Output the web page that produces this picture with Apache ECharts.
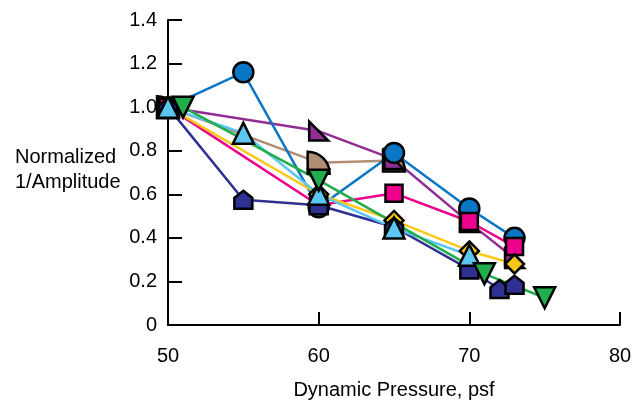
<!DOCTYPE html>
<html>
<head>
<meta charset="utf-8">
<script src="https://cdn.jsdelivr.net/npm/echarts@6/dist/echarts.min.js"></script>
<style>
  html, body { margin: 0; padding: 0; background: #fff; }
  #chart { width: 634px; height: 400px; }
</style>
</head>
<body>
<div id="chart"></div>
<script>
// Axis ranges and tick values
const xTicks = [50, 60, 70, 80];
const yTicks = [0, 0.2, 0.4, 0.6, 0.8, 1.0, 1.2, 1.4];

// Dynamic pressure (psf) and normalized 1/amplitude for each test run
const circleX   = [50, 55, 60, 65, 70, 73];
const circleY   = [1.00, 1.16, 0.54, 0.79, 0.535, 0.40];
const wedgeX    = [50, 60, 65, 70, 73];
const wedgeY    = [1.00, 0.89, 0.76, 0.47, 0.305];
const quarterX  = [50, 60, 65];
const quarterY  = [1.00, 0.745, 0.755];
const squareX   = [50, 60, 65, 70, 73];
const squareY   = [1.00, 0.55, 0.605, 0.475, 0.36];
const diamondX  = [50, 60, 65, 70, 73];
const diamondY  = [1.00, 0.60, 0.48, 0.34, 0.28];
const houseX    = [50, 55, 60, 65, 70, 72, 73];
const houseY    = [1.00, 0.575, 0.55, 0.45, 0.255, 0.165, 0.185];
const triUpX    = [50, 55, 60, 65, 70];
const triUpY    = [1.00, 0.88, 0.60, 0.445, 0.32];
const triDownX  = [51, 60, 71, 75];
const triDownY  = [1.00, 0.665, 0.235, 0.125];

const zip = (xs, ys) => xs.map((x, i) => [x, ys[i]]);

// Drawing order: later entries sit on top
const runs = [
  { xs: quarterX, ys: quarterY, color: '#b08d74', symbol: 'path://M0,10 L0,0 A10,10 0 0 1 10,10 Z', size: 22, rotate: 0 },
  { xs: wedgeX,   ys: wedgeY,   color: '#922e91', symbol: 'path://M0,0 L0,10 L10,10 Z', size: 19, rotate: 0 },
  { xs: circleX,  ys: circleY,  color: '#0a76c6', symbol: 'circle', size: 20, rotate: 0 },
  { xs: squareX,  ys: squareY,  color: '#ec008c', symbol: 'rect', size: 17, rotate: 0 },
  { xs: diamondX, ys: diamondY, color: '#fcc817', symbol: 'diamond', size: 19, rotate: 0 },
  { xs: houseX,   ys: houseY,   color: '#2e3192', symbol: 'path://M5,0 L10,4 L10,10 L0,10 L0,4 Z', size: 18, rotate: 0 },
  { xs: triUpX,   ys: triUpY,   color: '#5cc6f2', symbol: 'triangle', size: 21, rotate: 0 },
  { xs: triDownX, ys: triDownY, color: '#1fae4b', symbol: 'triangle', size: 21, rotate: 180 }
];

const series = [];
// connecting lines, all beneath the markers
runs.forEach(r => {
  series.push({
    type: 'line', data: zip(r.xs, r.ys), showSymbol: false, symbol: 'none',
    lineStyle: { color: r.color, width: 2.5 }, z: 2, silent: true, animation: false
  });
});
// markers
runs.forEach((r, i) => {
  series.push({
    type: 'scatter', data: zip(r.xs, r.ys), symbol: r.symbol, symbolSize: r.size,
    symbolRotate: r.rotate,
    itemStyle: { color: r.color, borderColor: '#000', borderWidth: 2.5, opacity: 1 },
    z: 3 + i, animation: false
  });
});

const font = '"Liberation Sans", Arial, Helvetica, sans-serif';
const chart = echarts.init(document.getElementById('chart'), null, { renderer: 'canvas' });
chart.setOption({
  backgroundColor: '#fff',
  animation: false,
  grid: { left: 168, right: 14, top: 20, bottom: 75, containLabel: false, outerBoundsMode: 'none' },
  xAxis: {
    type: 'value', min: xTicks[0], max: xTicks[xTicks.length - 1], interval: 10,
    name: 'Dynamic Pressure, psf', nameLocation: 'middle', nameGap: 55,
    nameTextStyle: { fontFamily: font, fontSize: 20, color: '#000' },
    axisLine: { show: true, onZero: false, lineStyle: { color: '#000', width: 2 } },
    axisTick: { show: true, inside: true, length: 13, lineStyle: { color: '#000', width: 2 } },
    axisLabel: { margin: 21, fontFamily: font, fontSize: 20, color: '#000' },
    splitLine: { show: false }
  },
  yAxis: {
    type: 'value', min: yTicks[0], max: yTicks[yTicks.length - 1], interval: 0.2,
    axisLine: { show: true, onZero: false, lineStyle: { color: '#000', width: 2 } },
    axisTick: { show: true, inside: true, length: 14, lineStyle: { color: '#000', width: 2 } },
    axisLabel: {
      margin: 11, fontFamily: font, fontSize: 20, color: '#000',
      formatter: v => (v === 0 ? '0' : v.toFixed(1))
    },
    splitLine: { show: false }
  },
  graphic: [
    {
      type: 'text', left: 15, top: 145,
      style: { text: 'Normalized\n1/Amplitude', fontFamily: font, fontSize: 20, fill: '#000',
               align: 'center', lineHeight: 25 }
    }
  ],
  series: series
});
</script>
</body>
</html>
